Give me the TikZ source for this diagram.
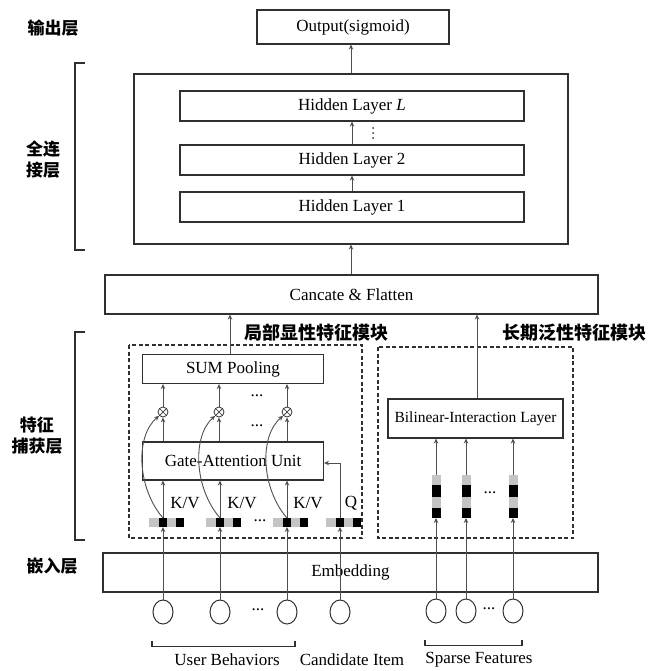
\documentclass[tikz,border=0pt]{standalone}
\usepackage{fontspec}
\setmainfont{Liberation Serif}
\newfontfamily\cjk{Noto Sans CJK SC}
\usetikzlibrary{arrows.meta,calc,shapes.geometric}
\definecolor{ink}{HTML}{303030}
\definecolor{lite}{HTML}{C4C4C4}
\tikzset{
  box/.style={draw=ink, line width=1.1pt, rectangle, inner sep=0pt,
    font=\fontsize{17}{20}\selectfont},
  lbl/.style={font=\fontsize{17}{20}\selectfont, inner sep=0pt},
  zh/.style={font=\cjk\bfseries\fontsize{17}{21}\selectfont, inner sep=0pt, align=center},
  zhmod/.style={font=\cjk\bfseries\fontsize{18}{21}\selectfont, inner sep=0pt},
  conn/.style={draw=ink!85, line width=0.9pt, -{Stealth[length=5pt,width=4.5pt]}},
  dashbox/.style={draw=ink, line width=1.3pt, dash pattern=on 4pt off 2.5pt},
  brk/.style={draw=ink, line width=1.1pt},
  dotmark/.style={circle, fill=ink, inner sep=0pt, minimum size=2pt},
  otimes/.style={circle, draw=ink, line width=0.8pt, minimum size=10pt, inner sep=0pt,
    path picture={\draw[ink, line width=0.7pt]
      (path picture bounding box.north west) -- (path picture bounding box.south east)
      (path picture bounding box.north east) -- (path picture bounding box.south west);}},
  inp/.style={ellipse, draw=ink, line width=1pt, minimum width=20pt, minimum height=24pt, inner sep=0pt},
  blk/.style={fill=black},
  gry/.style={fill=lite}
}
\begin{document}
\begin{tikzpicture}[x=1pt,y=-1pt]
\useasboundingbox (0,0) rectangle (653,671);

% ---- output and fully connected part ----
\node[box, minimum width=192pt, minimum height=34pt] (out) at (353,27) {Output(sigmoid)};
\node[box, minimum width=434pt, minimum height=170pt] (fc) at (351,159) {};
\node[box, minimum width=344pt, minimum height=30pt] (hL) at (352,106) {Hidden Layer \textit{L}};
\node[box, minimum width=344pt, minimum height=30pt] (h2) at (352,160) {Hidden Layer 2};
\node[box, minimum width=344pt, minimum height=30pt] (h1) at (352,207) {Hidden Layer 1};
% vertical ellipsis between layer 2 and layer L
\foreach \k/\y in {a/128,b/133,c/138} \node[dotmark] (vd\k) at (373,\y) {};
\draw[conn] (h1.north -| 352,0) -- (h2.south -| 352,0);
\draw[conn] (h2.north -| 352,0) -- (hL.south -| 352,0);
\draw[conn] (fc.north -| 351,0) -- (out.south -| 351,0);

\node[box, minimum width=493pt, minimum height=39pt] (cf) at (351.5,294.5) {Cancate \& Flatten};
\draw[conn] (cf.north -| 351,0) -- (fc.south -| 351,0);

% ---- feature capture modules ----
\draw[dashbox] (129,345) rectangle (362,538);
\draw[dashbox] (378,347) rectangle (573,538);
\node[zhmod] (lm) at (316,333) {局部显性特征模块};
\node[zhmod] (rm) at (574,333) {长期泛性特征模块};

\node[box, minimum width=181pt, minimum height=29pt] (sum) at (233,369) {SUM Pooling};
\node[box, minimum width=181pt, minimum height=38pt] (gau) at (233,461) {Gate-Attention Unit};
\node[box, minimum width=175pt, minimum height=39pt, font=\fontsize{15.5}{18}\selectfont] (bil) at (475.5,418.5) {Bilinear-Interaction Layer};

\draw[conn] (sum.north -| 230,0) -- (cf.south -| 230,0);
\draw[conn] (bil.north -| 477,0) -- (cf.south -| 477,0);

% product nodes
\foreach \i/\x in {1/163,2/219,3/287} {
  \node[otimes] (o\i) at (\x,412) {};
  \draw[conn] (gau.north -| o\i) -- (o\i.south);
  \draw[conn] (o\i.north) -- (sum.south -| o\i);
}
\node[lbl] (d1) at (257,396) {...};
\node[lbl] (d2) at (257,426) {...};

% embedding vectors of the behaviour sequence and the candidate
\foreach \i/\x in {1/163,2/220,3/287,4/340} {
  \fill[gry] (\x-14,518) rectangle (\x-4,527);
  \fill[blk] (\x-4,518) rectangle (\x+4,527);
  \fill[gry] (\x+4,518) rectangle (\x+13,527);
  \fill[blk] (\x+13,518) rectangle (\x+21,527);
  \coordinate (e\i) at (\x,518);
  \coordinate (eb\i) at (\x,527);
}
\node[lbl] (d3) at (260,521) {...};
\node[lbl] (kv1) at (185,503) {K/V};
\node[lbl] (kv2) at (242,503) {K/V};
\node[lbl] (kv3) at (308,503) {K/V};
\node[lbl] (q) at (351,503) {Q};

\foreach \i in {1,2,3} {
  \draw[conn] (e\i) -- (gau.south -| e\i);
  \draw[conn] (e\i) .. controls ($(e\i)+(-26,-30)$) and ($(e\i)+(-28,-82)$) .. (o\i.south west);
}
\draw[conn] (e4) |- (gau.east |- 0,463);

% embedding vectors of the sparse features
\foreach \i/\x in {1/436,2/466,3/513} {
  \fill[gry] (\x-4.5,475) rectangle (\x+4.5,485);
  \fill[blk] (\x-4.5,485) rectangle (\x+4.5,497);
  \fill[gry] (\x-4.5,497) rectangle (\x+4.5,508);
  \fill[blk] (\x-4.5,508) rectangle (\x+4.5,518);
  \coordinate (s\i) at (\x,475);
  \coordinate (sb\i) at (\x,518);
  \draw[conn] (s\i) -- (bil.south -| s\i);
}
\node[lbl] (d4) at (490,493) {...};

% ---- embedding layer and inputs ----
\node[box, minimum width=495pt, minimum height=39pt] (emb) at (350.5,572.5) {Embedding};
\foreach \i/\x in {1/163,2/220,3/287,4/340} {
  \node[inp] (u\i) at (\x,612) {};
  \draw[conn] (u\i.north) -- (eb\i);
}
\foreach \i/\x in {1/436,2/466,3/513} {
  \node[inp] (f\i) at (\x,611) {};
  \draw[conn] (f\i.north) -- (sb\i);
}
\node[lbl] (d5) at (258,610) {...};
\node[lbl] (d6) at (489,609) {...};

\draw[brk] (152,641) -- (152,646.5) -- (295,646.5) -- (295,641);
\draw[brk] (425,640) -- (425,645.5) -- (522,645.5) -- (522,640);
\node[lbl] (ub) at (227,660) {User Behaviors};
\node[lbl] (ci) at (352,660) {Candidate Item};
\node[lbl] (sf) at (479,660) {Sparse Features};

% ---- layer names on the left ----
\draw[brk] (85,63) -- (75,63) -- (75,250) -- (85,250);
\draw[brk] (85,332) -- (75,332) -- (75,540) -- (85,540);
\node[zh] (n1) at (53,28) {输出层};
\node[zh] (n2) at (43,160) {全连\\接层};
\node[zh] (n3) at (37,436) {特征\\捕获层};
\node[zh] (n4) at (52,566) {嵌入层};
\end{tikzpicture}
\end{document}
